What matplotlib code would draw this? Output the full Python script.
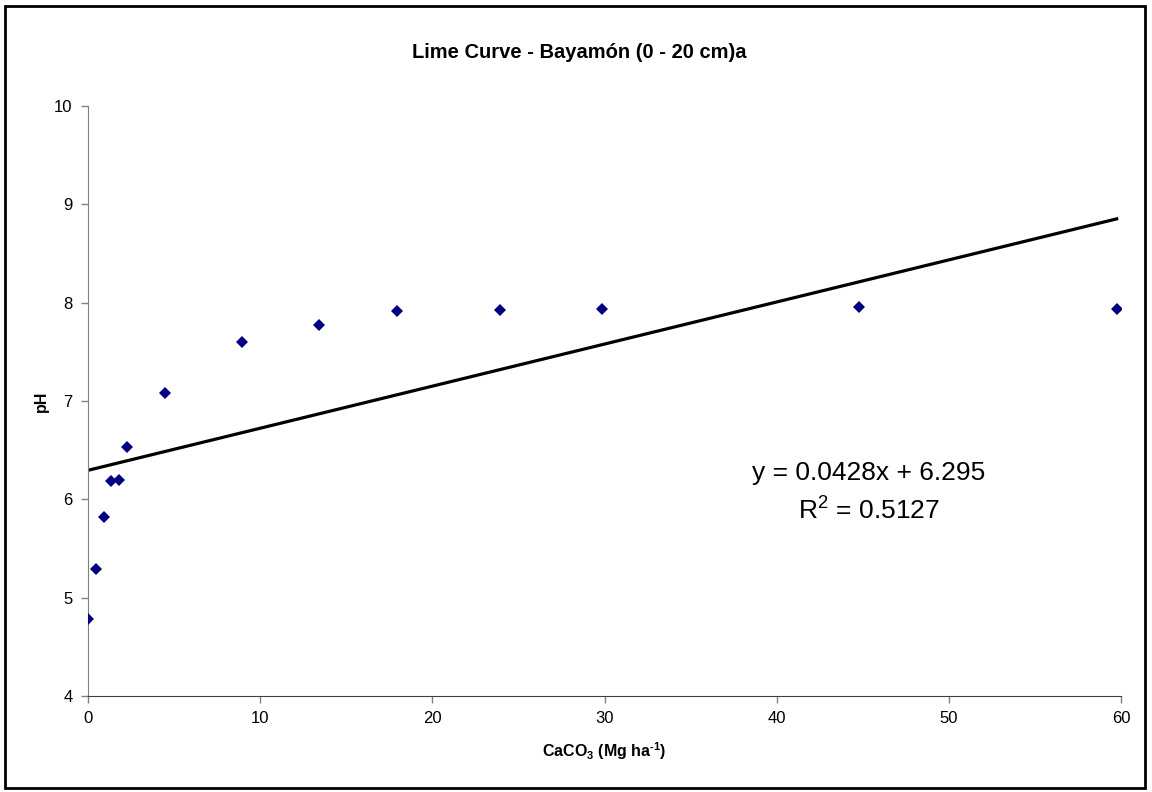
import numpy as np
import matplotlib.pyplot as plt
from matplotlib.patches import Rectangle

# lime rates (Mg/ha) and measured pH
caco3 = [0, 0.45, 0.9, 1.34, 1.79, 2.24, 4.48, 8.96, 13.44, 17.92, 23.9, 29.87, 44.8, 59.74]
ph = [4.78, 5.29, 5.82, 6.19, 6.20, 6.53, 7.08, 7.60, 7.77, 7.92, 7.93, 7.94, 7.96, 7.94]

# linear trendline as printed on the chart
slope = 0.0428
intercept = 6.295
r2 = 0.5127

x_ticks = [0, 10, 20, 30, 40, 50, 60]
y_ticks = [4, 5, 6, 7, 8, 9, 10]


def main():
    plt.rcParams['font.family'] = ['Liberation Sans', 'DejaVu Sans']
    plt.rcParams['mathtext.fontset'] = 'custom'
    plt.rcParams['mathtext.rm'] = 'Liberation Sans'
    plt.rcParams['mathtext.bf'] = 'Liberation Sans:bold'

    fig = plt.figure(figsize=(11.52, 7.92), dpi=100, facecolor='white')
    ax = fig.add_axes([0.0764, 0.1212, 0.8968, 0.7450])

    ax.plot(caco3, ph, linestyle='none', marker='D', markersize=6.5,
            color='#000080', markeredgewidth=0, zorder=3)

    xs = np.array([0, max(caco3)])
    ax.plot(xs, slope * xs + intercept, color='black', linewidth=2.3, zorder=2)

    ax.set_xlim(0, 60)
    ax.set_ylim(4, 10)
    ax.set_xticks(x_ticks)
    ax.set_yticks(y_ticks)
    ax.tick_params(direction='out', length=5, width=1, labelsize=12,
                   colors='#808080', labelcolor='black', pad=6)

    for side in ['top', 'right']:
        ax.spines[side].set_visible(False)
    ax.spines['left'].set_color('#808080')
    ax.spines['bottom'].set_color('#404040')

    ax.set_xlabel('CaCO$_\\mathbf{3}$ (Mg ha$^{\\mathbf{\u2010 1}}$)', fontsize=11.5,
                  fontweight='bold', labelpad=10)
    ax.set_ylabel('pH', fontsize=11.5, fontweight='bold', labelpad=4)

    fig.text(0.503, 0.934, 'Lime Curve - Bayamón (0 - 20 cm)a', ha='center', va='center',
             fontsize=14.5, fontweight='bold')

    fig.text(0.754, 0.403, f'y = {slope}x + {intercept}', ha='center', va='center', fontsize=19)
    fig.text(0.754, 0.356, f'R$^2$ = {r2}', ha='center', va='center', fontsize=19)

    fig.patches.append(Rectangle((0.004, 0.005), 0.99, 0.988, transform=fig.transFigure,
                                 fill=False, edgecolor='black', linewidth=2))

    fig.savefig('out.png', dpi=100, facecolor='white')


if __name__ == "__main__":
    main()
